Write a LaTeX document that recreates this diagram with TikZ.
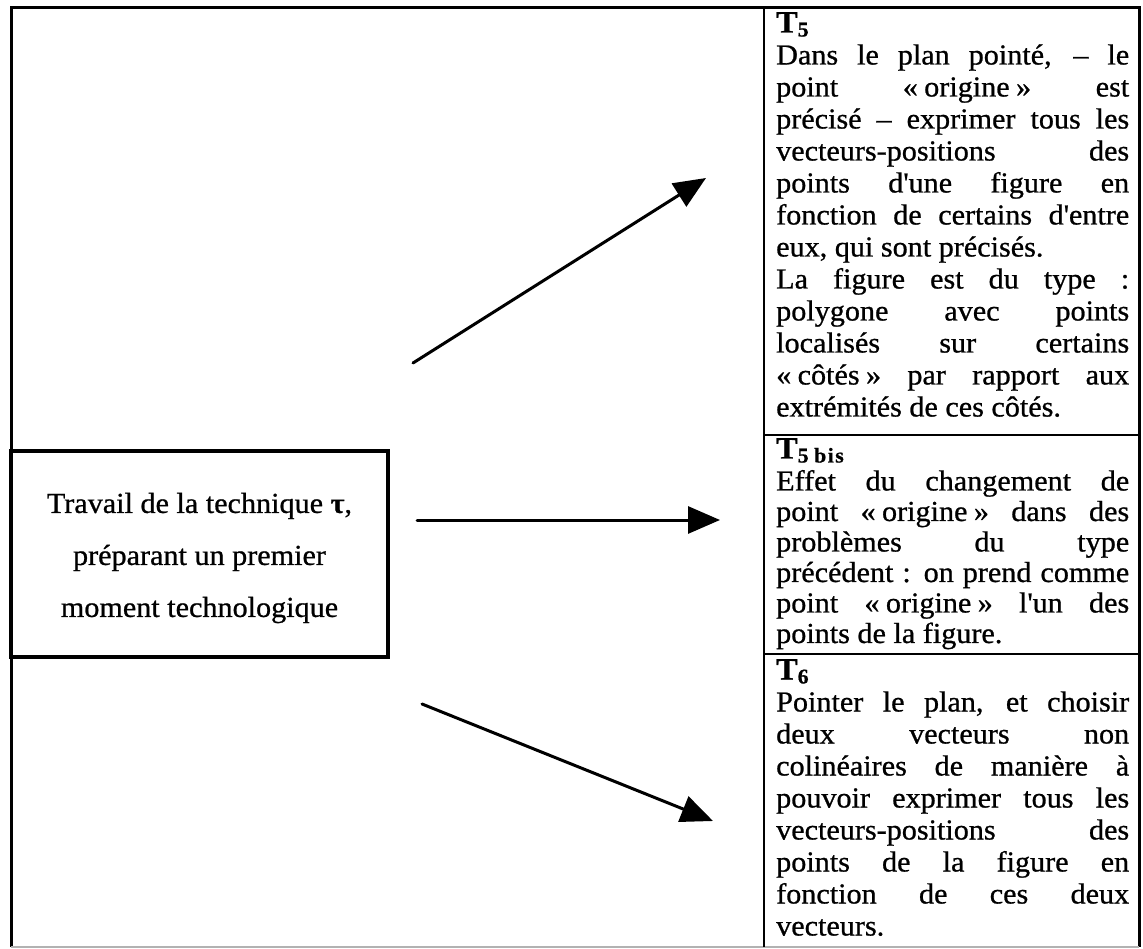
\documentclass[tikz,border=0pt]{standalone}
\usepackage{fontspec}
\setmainfont{Liberation Serif}[FakeStretch=1.04, FakeBold=0.8]
\usetikzlibrary{arrows.meta,positioning,calc}
\setlength{\parindent}{0pt}
\hbadness=10000
\newcommand{\gsp}{\nobreak\hspace{0.22em}}
\newcommand{\cellfont}{\fontsize{29}{32}\selectfont}
\newcommand{\cellhead}[1]{{\fontsize{31}{32}\selectfont\textbf{T\raisebox{-4pt}{\fontsize{21}{21}\selectfont #1}}}}

\tikzset{
  frameline/.style={line width=3pt},
  cellline/.style={line width=2.4pt},
  taskbox/.style={draw, line width=4pt, minimum width=377pt, minimum height=206pt, inner sep=0pt},
  tasktext/.style={align=center, font=\fontsize{29}{52}\selectfont},
  cellnode/.style={anchor=north west, text width=353pt, inner xsep=12pt, inner ysep=4pt, align=justify, font=\cellfont},
  arr/.style={line width=3pt, line cap=round, -{Triangle[length=32pt,width=27pt]}},
}

\begin{document}
\begin{tikzpicture}[x=1pt,y=-1pt]
\useasboundingbox (0,0) rectangle (1143,949);

% frame and table
\draw[frameline] (11,947) -- (11,8) -- (1139,8) -- (1139,947);
\draw[gray!60, line width=1.2pt] (11,947) -- (1139,947);
\draw[cellline] (764,8) -- (764,947);
\draw[cellline] (764,435) -- (1139,435);
\draw[cellline] (764,654) -- (1139,654);

% left box
\node[taskbox] (task) at (199.5,554) {};
\node[tasktext] (tasklabel) at ([yshift=-4pt]task.center)
  {Travail de la technique \textbf{τ},\\ préparant un premier\\ moment technologique};

% right column
\node[cellnode] (t5) at (764,8) {\cellhead{5}\par
Dans le plan pointé, – le\linebreak
point \guillemotleft\gsp origine\gsp\guillemotright{} est\linebreak
précisé – exprimer tous les\linebreak
vecteurs-positions des\linebreak
points d\textquotesingle une figure en\linebreak
fonction de certains d\textquotesingle entre\linebreak
eux, qui sont précisés.\par
La figure est du type :\linebreak
polygone avec points\linebreak
localisés sur certains\linebreak
\guillemotleft\gsp côtés\gsp\guillemotright{} par rapport aux\linebreak
extrémités de ces côtés.};

\node[cellnode, inner ysep=3pt, font=\fontsize{29}{30.5}\selectfont] (t5bis) at (764,435)
{\cellhead{5 b\kern1.5pt i\kern1.5pt s}\par\vspace{1.5pt}
Effet du changement de\linebreak
point \guillemotleft\gsp origine\gsp\guillemotright{} dans des\linebreak
problèmes du type\linebreak
précédent : on prend comme\linebreak
point \guillemotleft\gsp origine\gsp\guillemotright{} l\textquotesingle un des\linebreak
points de la figure.};

\node[cellnode, inner ysep=5pt] (t6) at (764,654) {\cellhead{6}\par
Pointer le plan, et choisir\linebreak
deux vecteurs non\linebreak
colinéaires de manière à\linebreak
pouvoir exprimer tous les\linebreak
vecteurs-positions des\linebreak
points de la figure en\linebreak
fonction de ces deux\linebreak
vecteurs.};

% arrows
\coordinate (a1s) at (413,363);
\coordinate (a1e) at (706,178);
\coordinate (a2s) at (417,520);
\coordinate (a2e) at (720,520);
\coordinate (a3s) at (422,704);
\coordinate (a3e) at (713,821);
\draw[arr] (a1s) -- (a1e);
\draw[arr] (a2s) -- (a2e);
\draw[arr] (a3s) -- (a3e);
\end{tikzpicture}
\end{document}
